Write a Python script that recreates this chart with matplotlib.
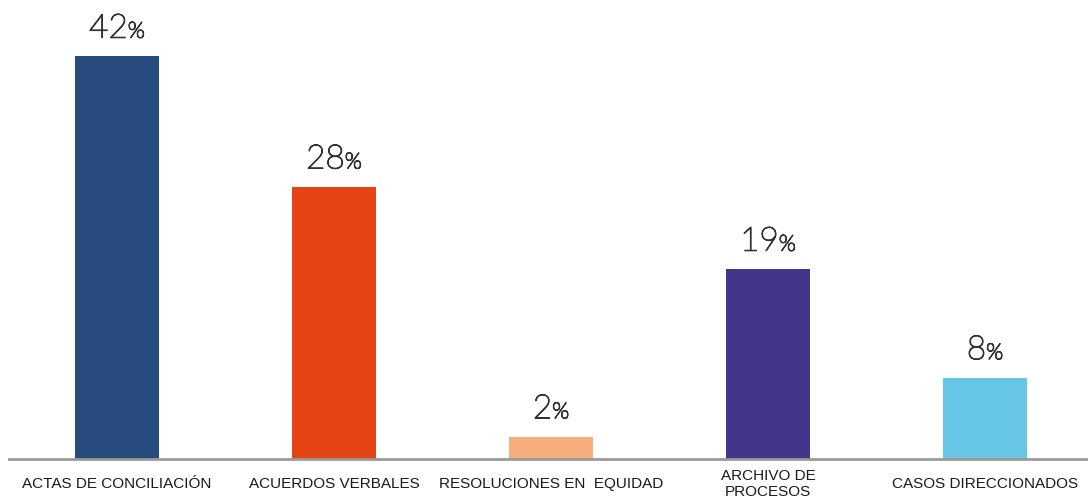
import matplotlib
matplotlib.use('Agg')  # Use non-interactive backend
import matplotlib.pyplot as plt
import matplotlib.patheffects as pe
from matplotlib.offsetbox import TextArea, HPacker, AnnotationBbox

# Data
categories = ['ACTAS DE CONCILIACIÓN', 'ACUERDOS VERBALES', 'RESOLUCIONES EN  EQUIDAD',
              'ARCHIVO DE\nPROCESOS', 'CASOS DIRECCIONADOS']
values = [41.6, 28.1, 2.3, 19.6, 8.4]
value_labels = ['42', '28', '2', '19', '8']
colors = ['#264b7c', '#e64414', '#f5ae7c', '#41368a', '#67c5e5']

fig = plt.figure(figsize=(10.88, 5.03), dpi=100)
ax = fig.add_axes([8.5 / 1088, 1 - 459 / 503, 1085 / 1088, 459 / 503])

x = list(range(len(categories)))
ax.bar(x, values, width=0.39, color=colors, zorder=2)

ax.set_xlim(-0.5, len(categories) - 0.5)
ax.set_ylim(0, 47.4)

# value labels: number plus a smaller percent sign (thin strokes)
thin = [pe.withStroke(linewidth=0.9, foreground='#333333')]
num_props = dict(fontfamily='Lato', fontweight='light', fontsize=24, color='#333333',
                 path_effects=thin)
pct_props = dict(fontfamily='Lato', fontweight='light', fontsize=16, color='#333333',
                 path_effects=thin)
for xi, v, lab in zip(x, values, value_labels):
    box = HPacker(children=[TextArea(lab, textprops=num_props),
                            TextArea('%', textprops=pct_props)],
                  align='baseline', pad=0, sep=0)
    ab = AnnotationBbox(box, (xi, v), xybox=(0, 9), xycoords='data',
                        boxcoords='offset points', box_alignment=(0.5, 0),
                        frameon=False, annotation_clip=False)
    ax.add_artist(ab)

ax.set_xticks(x)
ax.set_xticklabels(categories, fontfamily='Liberation Sans', fontsize=11,
                   color='#1a1a1a', linespacing=1.1)
for t in ax.get_xticklabels():
    t.set_verticalalignment('center')
ax.tick_params(axis='x', length=0, pad=18)
ax.set_yticks([])

for s in ['top', 'right', 'left']:
    ax.spines[s].set_visible(False)
ax.spines['bottom'].set_color('#9a9a9a')
ax.spines['bottom'].set_linewidth(2)

plt.savefig('out.png', dpi=100)
plt.close()
